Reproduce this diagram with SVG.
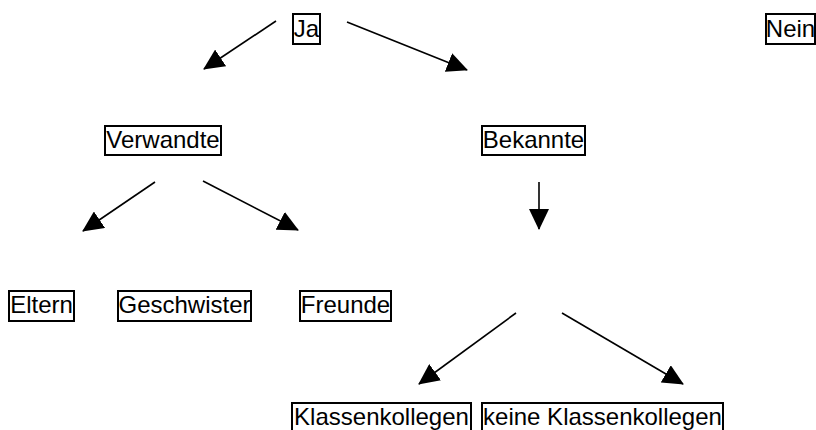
<svg xmlns="http://www.w3.org/2000/svg" width="816" height="430" viewBox="0 0 816 430">
<style>
  .box { fill: #fff; stroke: #000; stroke-width: 2; }
  .lbl { font-family: "Liberation Sans", Arial, sans-serif; font-size: 24px; fill: #000; text-anchor: middle; }
  .edge { stroke: #000; stroke-width: 1.6; fill: none; marker-end: url(#ah); }
</style>
<defs>
  <marker id="ah" markerUnits="userSpaceOnUse" viewBox="0 0 21 20" markerWidth="21" markerHeight="20" refX="20" refY="10" orient="auto">
    <path d="M0,0 L21,10 L0,20 z" fill="#000"/>
  </marker>
</defs>
<rect width="816" height="430" fill="#fff"/>
<g id="connectors">
  <line class="edge" x1="276" y1="21" x2="204" y2="69"/>
  <line class="edge" x1="347" y1="22" x2="467" y2="70"/>
  <line class="edge" x1="155" y1="182" x2="83" y2="231"/>
  <line class="edge" x1="203" y1="181" x2="298" y2="230"/>
  <line class="edge" x1="539" y1="182" x2="539" y2="229"/>
  <line class="edge" x1="516" y1="313" x2="419" y2="384"/>
  <line class="edge" x1="562" y1="313" x2="683" y2="384"/>
</g>
<g id="ja"><rect class="box" x="293" y="14" width="27" height="30"/><text class="lbl" x="306.5" y="37">Ja</text></g>
<g id="nein"><rect class="box" x="766" y="14" width="49" height="30"/><text class="lbl" x="790.5" y="37">Nein</text></g>
<g id="verwandte"><rect class="box" x="105" y="126" width="116" height="29"/><text class="lbl" x="163" y="148">Verwandte</text></g>
<g id="bekannte"><rect class="box" x="482" y="126" width="103" height="29"/><text class="lbl" x="533.5" y="148">Bekannte</text></g>
<g id="eltern"><rect class="box" x="9" y="291" width="65" height="30"/><text class="lbl" x="41.5" y="313">Eltern</text></g>
<g id="geschwister"><rect class="box" x="118" y="291" width="133" height="30"/><text class="lbl" x="184.5" y="313">Geschwister</text></g>
<g id="freunde"><rect class="box" x="300" y="291" width="91" height="30"/><text class="lbl" x="345.5" y="313">Freunde</text></g>
<g id="klassenkollegen"><rect class="box" x="292" y="403" width="179" height="32"/><text class="lbl" x="381.5" y="425">Klassenkollegen</text></g>
<g id="keine-klassenkollegen"><rect class="box" x="482" y="403" width="241" height="32"/><text class="lbl" x="602.5" y="425">keine Klassenkollegen</text></g>
</svg>
